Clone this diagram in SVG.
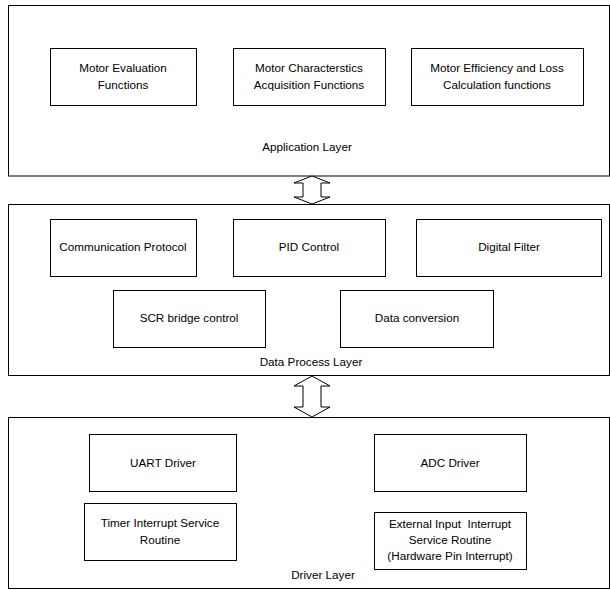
<svg xmlns="http://www.w3.org/2000/svg" width="610" height="590" viewBox="0 0 610 590">
<style>
.layer{fill:#fff;stroke:#000;stroke-width:1}
.box{fill:#fff;stroke:#000;stroke-width:1}
text{font-family:"Liberation Sans",Arial,sans-serif;font-size:11.7px;fill:#000;text-anchor:middle}
.arrow{fill:#fff;stroke:#000;stroke-width:1;stroke-linejoin:miter}
</style>
<rect width="610" height="590" fill="#fff"/>
<g id="application-layer">
<rect class="layer" x="8.5" y="5.5" width="601" height="170.5"/>
<text x="307" y="151">Application Layer</text>
</g>
<g id="motor-evaluation">
<rect class="box" x="50.5" y="48.5" width="146" height="57"/>
<text x="123" y="72">Motor Evaluation</text>
<text x="123" y="89">Functions</text>
</g>
<g id="motor-characteristics">
<rect class="box" x="233.5" y="48.5" width="152" height="57"/>
<text x="309" y="72">Motor Characterstics</text>
<text x="309" y="89">Acquisition Functions</text>
</g>
<g id="motor-efficiency">
<rect class="box" x="411.5" y="48.5" width="172" height="57"/>
<text x="497" y="72">Motor Efficiency and Loss</text>
<text x="497" y="89">Calculation functions</text>
</g>
<g id="data-process-layer">
<rect class="layer" x="8.5" y="204.5" width="601" height="171"/>
<text x="311" y="366">Data Process Layer</text>
</g>
<g id="communication-protocol">
<rect class="box" x="50.5" y="219.5" width="146" height="57"/>
<text x="123" y="251">Communication Protocol</text>
</g>
<g id="pid-control">
<rect class="box" x="233.5" y="219.5" width="152" height="57"/>
<text x="309" y="251">PID Control</text>
</g>
<g id="digital-filter">
<rect class="box" x="416.5" y="219.5" width="185" height="57"/>
<text x="509" y="251">Digital Filter</text>
</g>
<g id="scr-bridge-control">
<rect class="box" x="113.5" y="290.5" width="152" height="57"/>
<text x="189" y="322">SCR bridge control</text>
</g>
<g id="data-conversion">
<rect class="box" x="340.5" y="290.5" width="153" height="57"/>
<text x="417" y="322">Data conversion</text>
</g>
<g id="driver-layer">
<rect class="layer" x="8.5" y="417.5" width="601" height="171"/>
<text x="323" y="579">Driver Layer</text>
</g>
<g id="uart-driver">
<rect class="box" x="89.5" y="434.5" width="147" height="57"/>
<text x="163" y="467">UART Driver</text>
</g>
<g id="adc-driver">
<rect class="box" x="374.5" y="434.5" width="152" height="57"/>
<text x="450" y="467">ADC Driver</text>
</g>
<g id="timer-isr">
<rect class="box" x="84.5" y="503.5" width="152" height="57"/>
<text x="160" y="527">Timer Interrupt Service</text>
<text x="160" y="544">Routine</text>
</g>
<g id="external-isr">
<rect class="box" x="374.5" y="512.5" width="152" height="57"/>
<text x="450" y="528">External Input&#160; Interrupt</text>
<text x="450" y="544">Service Routine</text>
<text x="450" y="560">(Hardware Pin Interrupt)</text>
</g>
<g id="connectors">
<path class="arrow" d="M312,176 L330,183 L321,183 L321,197 L330,197 L312,204 L294,197 L303,197 L303,183 L294,183 Z"/>
<path class="arrow" d="M312,376 L330,386 L321,386 L321,407 L330,407 L312,417 L294,407 L303,407 L303,386 L294,386 Z"/>
</g>
</svg>
